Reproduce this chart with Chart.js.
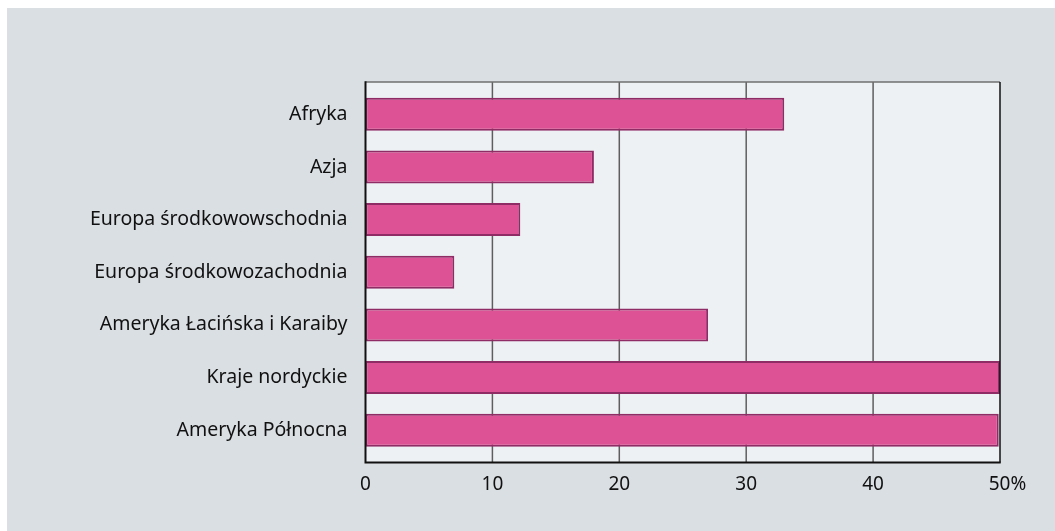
<!DOCTYPE html>
<html>
<head>
<meta charset="utf-8">
<script src="https://cdn.jsdelivr.net/npm/chart.js@4"></script>
<style>
html,body{margin:0;padding:0;background:#fff;}
#wrap{width:1055px;height:531px;}
</style>
</head>
<body>
<div id="wrap"><canvas id="c" width="1055" height="531"></canvas></div>
<script>
const categories = [
  "Afryka",
  "Azja",
  "Europa środkowowschodnia",
  "Europa środkowozachodnia",
  "Ameryka Łacińska i Karaiby",
  "Kraje nordyckie",
  "Ameryka Północna"
];
const values = [33, 18, 12.2, 7, 27, 50, 49.9];
const xTickValues = [0, 10, 20, 30, 40, 50];
const xTickLabels = ["0", "10", "20", "30", "40", "   50%"];

const W = 1055, H = 531, PAD = 6;

const deco = {
  id: 'deco',
  beforeDraw(chart) {
    const ctx = chart.ctx, a = chart.chartArea;
    ctx.save();
    ctx.fillStyle = '#ffffff';
    ctx.fillRect(0, 0, W, H);
    ctx.fillStyle = '#dadfe3';
    ctx.fillRect(7, 8, W - 7, H - 8);
    ctx.fillStyle = '#eef1f4';
    ctx.fillRect(a.left, a.top - PAD, a.right - a.left, a.bottom - a.top + 2 * PAD);
    ctx.restore();
  },
  beforeDatasetsDraw(chart) {
    const ctx = chart.ctx, a = chart.chartArea, xs = chart.scales.x;
    ctx.save();
    ctx.strokeStyle = '#5e5e5e';
    ctx.lineWidth = 1.5;
    xTickValues.forEach(v => {
      const px = xs.getPixelForValue(v);
      if (px > a.left + 1 && px < a.right - 1) {
        ctx.beginPath();
        ctx.moveTo(px, a.top - PAD);
        ctx.lineTo(px, a.bottom + PAD);
        ctx.stroke();
      }
    });
    ctx.restore();
  },
  afterDatasetsDraw(chart) {
    const ctx = chart.ctx, a = chart.chartArea;
    const t = a.top - PAD, b = a.bottom + PAD;
    ctx.save();
    ctx.lineWidth = 1.5;
    ctx.strokeStyle = '#6f6f6f';
    ctx.beginPath(); ctx.moveTo(a.left, t); ctx.lineTo(a.right, t); ctx.stroke();
    ctx.strokeStyle = '#111';
    ctx.beginPath(); ctx.moveTo(a.right, t); ctx.lineTo(a.right, b); ctx.stroke();
    ctx.lineWidth = 2;
    ctx.beginPath(); ctx.moveTo(a.left, t - 0.7); ctx.lineTo(a.left, b); ctx.lineTo(a.right + 0.7, b); ctx.stroke();
    ctx.restore();
  }
};

new Chart(document.getElementById('c'), {
  type: 'bar',
  data: {
    labels: categories,
    datasets: [{
      data: values,
      backgroundColor: '#dd5294',
      borderColor: '#8f2c66',
      borderWidth: 2,
      borderSkipped: false,
      barPercentage: 0.627,
      categoryPercentage: 1
    }]
  },
  options: {
    indexAxis: 'y',
    responsive: false,
    animation: false,
    events: [],
    layout: { padding: { left: 0, top: 88, right: 55, bottom: 34.5 } },
    plugins: { legend: { display: false }, tooltip: { enabled: false } },
    scales: {
      x: {
        type: 'linear',
        min: 0, max: 50,
        afterBuildTicks(s) { s.ticks = xTickValues.map(v => ({ value: v })); },
        afterFit(s) { s.height = 40; },
        grid: { display: false, drawTicks: false },
        border: { display: false },
        ticks: {
          padding: 17,
          autoSkip: false,
          maxRotation: 0,
          color: '#111',
          font: { family: 'Noto Sans', size: 19 },
          callback: (v) => { const i = xTickValues.indexOf(v); return i >= 0 ? xTickLabels[i] : ''; }
        }
      },
      y: {
        afterFit(s) { s.width = 365.5; },
        grid: { display: false, drawTicks: false },
        border: { display: false },
        ticks: {
          padding: 18,
          autoSkip: false,
          color: '#111',
          font: { family: 'Noto Sans', size: 19.5 }
        }
      }
    }
  },
  plugins: [deco]
});
</script>
</body>
</html>
